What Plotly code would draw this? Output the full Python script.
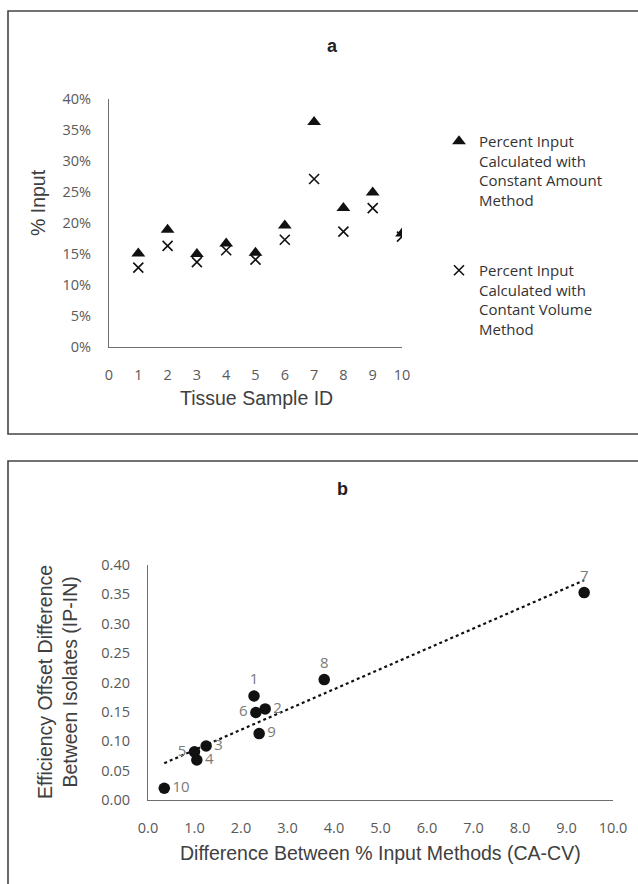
import numpy as np
import plotly.graph_objects as go

# ---------------- data ----------------
sample_ids = [1, 2, 3, 4, 5, 6, 7, 8, 9, 10]
pct_input_constant_amount = [0.151, 0.189, 0.150, 0.167, 0.152, 0.196, 0.363, 0.224, 0.249, 0.183]
pct_input_constant_volume = [0.128, 0.163, 0.137, 0.156, 0.141, 0.173, 0.271, 0.186, 0.224, 0.178]

diff_input_methods = [2.28, 2.52, 1.25, 1.05, 1.00, 2.32, 9.38, 3.79, 2.39, 0.35]
efficiency_offset_diff = [0.177, 0.155, 0.092, 0.068, 0.082, 0.149, 0.353, 0.205, 0.113, 0.020]
point_labels = ["1", "2", "3", "4", "5", "6", "7", "8", "9", "10"]

pct_ticks = [0, 0.05, 0.10, 0.15, 0.20, 0.25, 0.30, 0.35, 0.40]
id_ticks = [0, 1, 2, 3, 4, 5, 6, 7, 8, 9, 10]
eff_ticks = [0, 0.05, 0.10, 0.15, 0.20, 0.25, 0.30, 0.35, 0.40]
diff_ticks = [0, 1, 2, 3, 4, 5, 6, 7, 8, 9, 10]

# ---------------- layout helpers ----------------
W, H = 638, 884
def px(x):
    return x / W
def py(y):
    return 1 - y / H

label_positions = ["top center", "middle right", "middle right", "middle right", "middle left",
                   "middle left", "top center", "top center", "middle right", "middle right"]

TICK_FONT = dict(family="Open Sans", size=14.5, color="#595959")
TITLE_FONT = dict(family="Liberation Sans, Arial", size=19.5, color="#404040")
AXIS_COLOR = "#6e6e6e"

fig = go.Figure()

# Panel a
fig.add_trace(go.Scatter(
    x=sample_ids, y=pct_input_constant_amount, mode="markers",
    name="Percent Input<br>Calculated with<br>Constant Amount<br>Method",
    legendgroup="ca",
    marker=dict(symbol="triangle-up", size=12, color="#111111"),
    xaxis="x", yaxis="y",
))
fig.add_trace(go.Scatter(
    x=sample_ids, y=pct_input_constant_volume, mode="markers",
    name="Percent Input<br>Calculated with<br>Contant Volume<br>Method",
    legendgroup="cv",
    marker=dict(symbol="x-thin", size=10, color="#111111",
                line=dict(width=1.6, color="#111111")),
    xaxis="x", yaxis="y",
))

# Panel b: trendline from linear fit of the points
slope, intercept = np.polyfit(diff_input_methods, efficiency_offset_diff, 1)
xfit = np.array([min(diff_input_methods), max(diff_input_methods)])
fig.add_trace(go.Scatter(
    x=xfit, y=slope * xfit + intercept, mode="lines",
    line=dict(color="#111111", width=2.2, dash="dot"),
    showlegend=False, hoverinfo="skip", xaxis="x2", yaxis="y2",
))
fig.add_trace(go.Scatter(
    x=diff_input_methods, y=efficiency_offset_diff, mode="markers+text",
    text=point_labels, textposition=label_positions,
    textfont=dict(family="Open Sans", size=15, color="#7a7a7a"),
    marker=dict(symbol="circle", size=11.5, color="#111111"),
    showlegend=False, xaxis="x2", yaxis="y2",
))

axis_common = dict(showgrid=False, zeroline=False, showline=True, linecolor=AXIS_COLOR,
                   linewidth=1.2, ticks="", tickfont=TICK_FONT, ticklabelstandoff=14,
                   fixedrange=True, automargin=False)

def ann(text, x, y, font, angle=0):
    return dict(text=text, x=px(x), y=py(y), xref="paper", yref="paper", showarrow=False,
                xanchor="center", yanchor="middle", textangle=angle, font=font)

fig.update_layout(
    template="none",
    width=W, height=H,
    margin=dict(l=0, r=0, t=0, b=0, pad=0),
    paper_bgcolor="white", plot_bgcolor="white",
    xaxis=dict(domain=[px(109), px(402)], range=[0, 10], tickvals=id_ticks,
               anchor="y", **axis_common),
    yaxis=dict(domain=[py(347), py(99)], range=[0, 0.40], tickvals=pct_ticks,
               tickformat=".0%", anchor="x", **axis_common),
    xaxis2=dict(domain=[px(148), px(613)], range=[0, 10], tickvals=diff_ticks,
                tickformat=".1f", anchor="y2", **axis_common),
    yaxis2=dict(domain=[py(800), py(565)], range=[0, 0.40], tickvals=eff_ticks,
                tickformat=".2f", anchor="x2", **axis_common),
    legend=dict(x=px(439), y=py(125), xanchor="left", yanchor="top",
                font=dict(family="Open Sans", size=15, color="#333333"),
                valign="top", tracegroupgap=48, traceorder="grouped",
                bgcolor="rgba(0,0,0,0)", borderwidth=0),
    showlegend=True,
    shapes=[
        dict(type="rect", xref="paper", yref="paper", x0=px(8), x1=px(660), y0=py(434), y1=py(11),
             line=dict(color="#444444", width=1.6)),
        dict(type="rect", xref="paper", yref="paper", x0=px(8), x1=px(660), y0=py(910), y1=py(461),
             line=dict(color="#444444", width=1.6)),
    ],
    annotations=[
        ann("<b>a</b>", 332, 46, dict(family="Liberation Sans, Arial", size=18, color="#222222")),
        ann("<b>b</b>", 342, 489, dict(family="Liberation Sans, Arial", size=18, color="#222222")),
        ann("% Input", 38, 203, TITLE_FONT, -90),
        ann("Tissue Sample ID", 256, 398, TITLE_FONT),
        ann("Efficiency Offset Difference<br>Between Isolates (IP-IN)", 57, 682, TITLE_FONT, -90),
        ann("Difference Between % Input Methods (CA-CV)", 381, 853, TITLE_FONT),
    ],
)

fig.write_html("out.html",
               config={"displayModeBar": False},
               post_script="document.body.style.margin='0';document.body.style.padding='0';")
